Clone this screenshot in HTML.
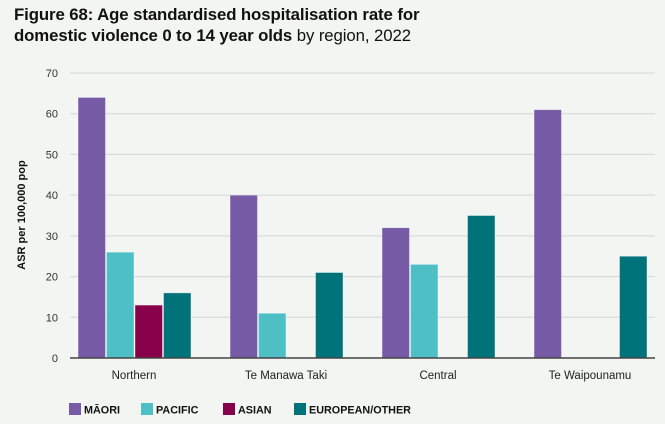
<!DOCTYPE html>
<html><head><meta charset="utf-8"><style>
body{margin:0;background:#f3f5f2;font-family:"Liberation Sans",sans-serif;}
#wrap{position:relative;width:665px;height:424px;overflow:hidden;background:#f3f5f2}
h1{position:absolute;left:14px;top:4px;margin:0;font-size:16.8px;line-height:21px;font-weight:bold;color:#111;letter-spacing:-0.1px}
h1 span{font-weight:normal}
</style></head><body>
<div id="wrap">
<h1>Figure 68: Age standardised hospitalisation rate for<br>domestic violence 0 to 14 year olds <span>by region, 2022</span></h1>
<svg id="chart" width="665" height="424" style="position:absolute;left:0;top:0"></svg>
</div>
<script>
const categories=["Northern","Te Manawa Taki","Central","Te Waipounamu"];
const seriesNames=["MĀORI","PACIFIC","ASIAN","EUROPEAN/OTHER"];
const maori=[64,40,32,61];
const pacific=[26,11,23,0];
const asian=[13,0,0,0];
const european=[16,21,35,25];
const yTicks=[0,10,20,30,40,50,60,70];
const colors=["#785ba6","#4fbfc6","#87004a","#00737a"];
const series=[maori,pacific,asian,european];
const NS="http://www.w3.org/2000/svg";
const svg=document.getElementById('chart');
const y0=358,y1=73,yMax=70,bandStart=58,bandW=152,barW=27.5,padL=20;
const y=v=>y0-(v/yMax)*(y0-y1);
const x=(c,s)=>bandStart+c*bandW+padL+s*(barW+1);
function el(t,a){const e=document.createElementNS(NS,t);for(const k in a)e.setAttribute(k,a[k]);svg.appendChild(e);return e;}
yTicks.forEach(t=>{
 if(t>0){const g=el('line',{x1:70,x2:655,y1:y(t),y2:y(t),stroke:'#d3d6d2','stroke-width':1});
 
 }
 const l=el('text',{x:58,y:y(t)+4,'text-anchor':'end','font-size':11,fill:'#333'});l.textContent=t;
 
 
});
series.forEach((arr,s)=>arr.forEach((v,c)=>{
 if(v<=0)return;
 const r=el('rect',{x:x(c,s),y:y(v),width:barW,height:y0-y(v),fill:colors[s],stroke:'#fff','stroke-opacity':0.5,'stroke-width':0.8});
 
 
}));
const base=el('line',{x1:70,x2:655,y1:y0,y2:y0,stroke:'#444','stroke-width':1.5});


categories.forEach((c,i)=>{
 const t=el('text',{x:bandStart+i*bandW+bandW/2,y:379,'text-anchor':'middle','font-size':11.5,fill:'#222'});t.textContent=c;
 
 
});
const yt=el('text',{transform:'translate(25,215) rotate(-90)','text-anchor':'middle','font-size':11,'font-weight':'bold',fill:'#111'});yt.textContent='ASR per 100,000 pop';


const lx=[69,141,223,294];
seriesNames.forEach((n,i)=>{
 const r=el('rect',{x:lx[i],y:403,width:12,height:12,fill:colors[i]});
 
 
 const t=el('text',{x:lx[i]+15,y:413.5,'font-size':10.8,'font-weight':'bold',fill:'#111'});t.textContent=n;
 
 
});
</script>
</body></html>
